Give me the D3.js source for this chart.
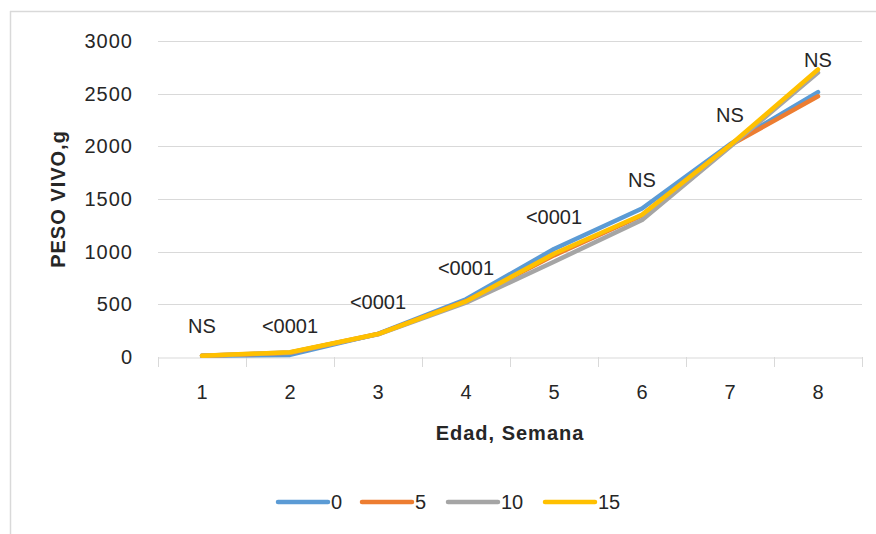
<!DOCTYPE html>
<html>
<head>
<meta charset="utf-8">
<script src="https://cdn.jsdelivr.net/npm/d3@7"></script>
<style>
  body { margin: 0; background: #fff; }
  text { font-family: "Liberation Sans", Arial, sans-serif; fill: #262626; }
</style>
</head>
<body>
<div id="chart"></div>
<script>
// data
var semanas = ["1", "2", "3", "4", "5", "6", "7", "8"];
var serie0  = [12, 20, 220, 548, 1025, 1410, 2020, 2515];
var serie5  = [12, 40, 218, 530, 965, 1345, 2010, 2475];
var serie10 = [12, 42, 215, 515, 905, 1300, 1995, 2700];
var serie15 = [12, 45, 218, 528, 980, 1350, 2010, 2730];
var etiquetas = ["NS", "<0001", "<0001", "<0001", "<0001", "NS", "NS", "NS"];
var etiquetaY = [294, 294, 522, 845, 1330, 1680, 2300, 2820];
var yTicks = [0, 500, 1000, 1500, 2000, 2500, 3000];

var series = [
    {name: "0",  values: serie0,  color: "#5B9BD5"},
    {name: "5",  values: serie5,  color: "#ED7D31"},
    {name: "10", values: serie10, color: "#A5A5A5"},
    {name: "15", values: serie15, color: "#FFC000"}
];

var width = 876, height = 534;
var plotLeft = 158, plotRight = 862, plotTop = 41, plotBottom = 357;
var fs = "20px";

var svg = d3.select("#chart").append("svg")
    .attr("width", width)
    .attr("height", height);

// chart border (only left and top visible)
svg.append("line").attr("x1", 10.5).attr("x2", 10.5).attr("y1", 11).attr("y2", height)
    .style("stroke", "#d9d9d9").style("stroke-width", 1.5);
svg.append("line").attr("x1", 10).attr("x2", width).attr("y1", 11.5).attr("y2", 11.5)
    .style("stroke", "#d9d9d9").style("stroke-width", 1.5);

var x = d3.scaleBand()
    .domain(semanas)
    .range([plotLeft, plotRight]);

var y = d3.scaleLinear()
    .domain([0, 3000])
    .range([plotBottom, plotTop]);

// gridlines
svg.append("g")
    .selectAll("line")
    .data(yTicks.slice(1))
    .enter()
    .append("line")
    .attr("x1", plotLeft)
    .attr("x2", plotRight)
    .attr("y1", function(d){ return Math.round(y(d)) + 0.5; })
    .attr("y2", function(d){ return Math.round(y(d)) + 0.5; })
    .style("stroke", "#d9d9d9")
    .style("stroke-width", 1);

// y axis labels
var yAxis = svg.append("g")
    .attr("transform", "translate(" + plotLeft + ",0)")
    .call(d3.axisLeft(y).tickValues(yTicks).tickFormat(d3.format("d")).tickSize(0).tickPadding(25));
yAxis.select(".domain").remove();
yAxis.selectAll("text")
    .style("font-size", fs)
    .style("letter-spacing", "1px")
    .style("font-family", "Liberation Sans, Arial, sans-serif")
    .style("fill", "#262626");

// x axis
var xAxis = svg.append("g")
    .attr("transform", "translate(0," + (Math.round(plotBottom) + 0.5) + ")")
    .call(d3.axisBottom(x).tickSize(0).tickPadding(27));
xAxis.select(".domain").style("stroke", "#d9d9d9");
xAxis.selectAll("text")
    .style("font-size", fs)
    .style("font-family", "Liberation Sans, Arial, sans-serif")
    .style("fill", "#262626");

// category boundary ticks
var bounds = semanas.map(function(d){ return x(d); }).concat([x.range()[1]]);
svg.append("g")
    .selectAll("line")
    .data(bounds)
    .enter()
    .append("line")
    .attr("x1", function(d){ return Math.round(d) + 0.5; })
    .attr("x2", function(d){ return Math.round(d) + 0.5; })
    .attr("y1", plotBottom)
    .attr("y2", plotBottom + 10)
    .style("stroke", "#d9d9d9");

// lines
var line = d3.line()
    .x(function(d, i){ return x(semanas[i]) + x.bandwidth() / 2; })
    .y(function(d){ return y(d); });

svg.append("g")
    .selectAll("path")
    .data(series)
    .enter()
    .append("path")
    .attr("d", function(d){ return line(d.values); })
    .style("fill", "none")
    .style("stroke", function(d){ return d.color; })
    .style("stroke-width", 4.5)
    .style("stroke-linejoin", "round")
    .style("stroke-linecap", "round");

// significance labels
svg.append("g")
    .selectAll("text")
    .data(etiquetas)
    .enter()
    .append("text")
    .attr("x", function(d, i){ return x(semanas[i]) + x.bandwidth() / 2; })
    .attr("y", function(d, i){ return y(etiquetaY[i]); })
    .attr("dy", "0.35em")
    .attr("text-anchor", "middle")
    .style("font-size", fs)
    .text(function(d){ return d; });

// axis titles
svg.append("text")
    .attr("transform", "translate(65," + ((plotTop + plotBottom) / 2) + ") rotate(-90)")
    .attr("text-anchor", "middle")
    .style("font-size", fs)
    .style("font-weight", "bold")
    .style("letter-spacing", "1px")
    .text("PESO VIVO,g");

svg.append("text")
    .attr("x", (plotLeft + plotRight) / 2)
    .attr("y", 440)
    .attr("text-anchor", "middle")
    .style("font-size", fs)
    .style("font-weight", "bold")
    .style("letter-spacing", "1px")
    .text("Edad, Semana");

// legend
var legX = [278, 362, 448, 545];
var legend = svg.append("g")
    .selectAll("g")
    .data(series)
    .enter()
    .append("g")
    .attr("transform", function(d, i){ return "translate(" + legX[i] + ",502)"; });

legend.append("line")
    .attr("x1", 0)
    .attr("x2", 50)
    .style("stroke", function(d){ return d.color; })
    .style("stroke-width", 4.5)
    .style("stroke-linecap", "round");

legend.append("text")
    .attr("x", 53)
    .attr("dy", "0.35em")
    .style("font-size", fs)
    .text(function(d){ return d.name; });
</script>
</body>
</html>
